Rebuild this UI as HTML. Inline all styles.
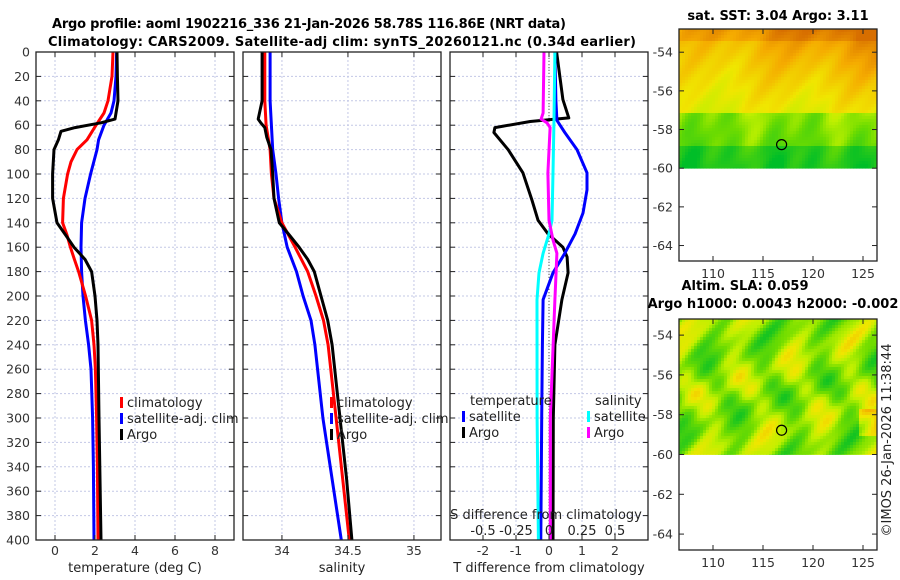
<!DOCTYPE html>
<html><head><meta charset="utf-8"><style>
body{margin:0;background:#fff;}
svg{display:block;font-family:"DejaVu Sans","Liberation Sans",sans-serif;}
.tk{font-size:12.5px;fill:#333;}
.ttl{font-size:13px;font-weight:bold;fill:#000;}
.lab{font-size:13px;fill:#222;}
</style></head><body>
<svg id="fig" width="900" height="580" viewBox="0 0 900 580"></svg>
<script>
// ---------- data ----------
const depthTicks=[0,20,40,60,80,100,120,140,160,180,200,220,240,260,280,300,320,340,360,380,400];
const tempTicks=[0,2,4,6,8];
const salTicks=[34,34.5,35];
const salTickLabels=["34","34.5","35"];
const tdiffTicks=[-2,-1,0,1,2];
const sdiffTicks=[-0.5,-0.25,0,0.25,0.5];
const sdiffTickLabels=["-0.5","-0.25","0","0.25","0.5"];
const lonTicks=[110,115,120,125];
const latTicks=[-54,-56,-58,-60,-62,-64];
// [depth, value]
const tempClim=[[0,2.9],[20,2.85],[40,2.65],[50,2.45],[60,2.05],[72,1.6],[80,1.1],[90,0.8],[100,0.63],[120,0.42],[140,0.38],[150,0.6],[160,0.77],[170,0.97],[180,1.18],[200,1.53],[220,1.83],[240,1.95],[260,2.02],[300,2.08],[340,2.12],[400,2.15]];
const tempSat=[[0,3.08],[20,3.05],[40,2.95],[50,2.8],[60,2.45],[72,2.18],[80,2.1],[100,1.78],[120,1.5],[140,1.33],[160,1.3],[180,1.33],[200,1.4],[220,1.52],[240,1.68],[260,1.8],[300,1.88],[340,1.92],[400,1.95]];
const tempArgo=[[0,3.1],[20,3.12],[40,3.15],[55,3.0],[58,2.3],[62,1.0],[65,0.3],[72,0.17],[80,-0.05],[100,-0.12],[120,-0.12],[140,0.1],[150,0.53],[160,0.95],[170,1.5],[180,1.83],[200,2.0],[220,2.1],[240,2.15],[300,2.2],[400,2.3]];
const salClim=[[0,33.87],[40,33.87],[60,33.88],[80,33.91],[100,33.92],[120,33.94],[140,34.0],[150,34.05],[160,34.1],[180,34.195],[200,34.258],[220,34.315],[240,34.35],[300,34.41],[350,34.46],[400,34.51]];
const salSat=[[0,33.91],[40,33.91],[60,33.92],[80,33.93],[100,33.955],[120,33.975],[140,34.0],[160,34.04],[180,34.11],[200,34.16],[220,34.22],[240,34.25],[300,34.31],[350,34.38],[400,34.45]];
const salArgo=[[0,33.85],[40,33.85],[55,33.82],[58,33.84],[62,33.87],[70,33.885],[80,33.917],[100,33.93],[120,33.94],[140,33.98],[150,34.056],[160,34.13],[170,34.195],[180,34.245],[200,34.296],[220,34.347],[240,34.38],[300,34.44],[350,34.49],[400,34.53]];
const tdiffSat=[[0,0.18],[40,0.21],[56,0.24],[66,0.48],[80,0.85],[99,1.15],[113,1.15],[132,1.03],[149,0.79],[165,0.48],[181,0.12],[203,-0.18],[240,-0.2],[300,-0.22],[400,-0.25]];
const tdiffArgo=[[0,0.23],[39,0.42],[54,0.6],[57,-0.57],[62,-1.64],[66,-1.67],[80,-1.24],[99,-0.79],[121,-0.52],[138,-0.33],[149,-0.03],[160,0.42],[168,0.55],[181,0.58],[203,0.39],[240,0.18],[300,0.13],[400,0.12]];
const sdiffSat=[[0,0.045],[55,0.038],[99,0.03],[138,0.023],[149,0.0],[165,-0.045],[181,-0.076],[203,-0.091],[300,-0.09],[400,-0.08]];
const sdiffArgo=[[0,-0.038],[50,-0.045],[55,-0.06],[58,-0.015],[62,0.008],[99,-0.008],[138,0.0],[154,0.03],[165,0.06],[203,0.045],[300,0.01],[400,0.01]];

const NS='http://www.w3.org/2000/svg';
const svg=document.getElementById('fig');
function el(tag,attrs,parent,txt){const e=document.createElementNS(NS,tag);for(const k in attrs)e.setAttribute(k,attrs[k]);if(txt!==undefined)e.textContent=txt;(parent||svg).appendChild(e);return e;}

const TOP=52,BOT=540;
const yD=d=>TOP+(d/400)*(BOT-TOP);
function lin(d0,d1,r0,r1){return v=>r0+(v-d0)/(d1-d0)*(r1-r0);}
const panels=[
 {x0:36,x1:234,name:'temperature-panel',sx:lin(-0.95,8.95,36,234)},
 {x0:243,x1:441,name:'salinity-panel',sx:lin(33.705,35.205,243,441)},
 {x0:450,x1:648,name:'difference-panel',sx:lin(-3,3,450,648)}
];
const sdx=lin(-0.75,0.75,450,648);

function grid(g,p,xt){
  depthTicks.forEach(d=>{const l=el('line',{x1:p.x0,x2:p.x1,y1:yD(d),y2:yD(d),stroke:'#c3c8e6','stroke-width':1,'stroke-dasharray':'2,2'},g);});
  xt.forEach(v=>{const x=p.sx(v);const l=el('line',{x1:x,x2:x,y1:TOP,y2:BOT,stroke:'#c3c8e6','stroke-width':1,'stroke-dasharray':'2,2'},g);});
}
function ticks(g,p,xt,labels,showY){
  depthTicks.forEach(d=>{el('line',{x1:p.x0,x2:p.x0+5,y1:yD(d),y2:yD(d),stroke:'#222'},g);el('line',{x1:p.x1,x2:p.x1-5,y1:yD(d),y2:yD(d),stroke:'#222'},g);
    if(showY){const t=el('text',{x:30,y:yD(d)+4.5,'text-anchor':'end',class:'tk'},g,String(d));}});
  xt.forEach((v,i)=>{const x=p.sx(v);el('line',{x1:x,x2:x,y1:BOT,y2:BOT-5,stroke:'#222'},g);el('line',{x1:x,x2:x,y1:TOP,y2:TOP+5,stroke:'#222'},g);
    const t=el('text',{x:x,y:555,'text-anchor':'middle',class:'tk'},g,labels[i]);});
}
function line(g,data,sx,color,name,w){
  const pts=data.map(([d,v])=>sx(v).toFixed(1)+','+yD(d).toFixed(1)).join(' ');
  const pl=el('polyline',{points:pts,fill:'none',stroke:color,'stroke-width':w||3,'stroke-linejoin':'round'},g);
  
}
function legend(g,x,y,items){
  items.forEach((it,i)=>{const yy=y+i*16;
    el('rect',{x:x,y:yy-10,width:3,height:11,fill:it[1]},g);
    const t=el('text',{x:x+7,y:yy,class:'lab'},g,it[0]);});
}

// Panel 1
let g=el('g',{});  
let p=panels[0];
grid(g,p,tempTicks);
line(g,tempSat,p.sx,'#0000ff','temp-satellite-line');
line(g,tempClim,p.sx,'#ff0000','temp-climatology-line');
line(g,tempArgo,p.sx,'#000000','temp-argo-line');
el('rect',{x:p.x0,y:TOP,width:p.x1-p.x0,height:BOT-TOP,fill:'none',stroke:'#222','stroke-width':1.3},g);
ticks(g,p,tempTicks,tempTicks.map(String),true);
legend(g,120,407,[['climatology','#f00'],['satellite-adj. clim','#00f'],['Argo','#000']]);
el('text',{x:135,y:572,'text-anchor':'middle',class:'lab'},g,'temperature (deg C)');

// Panel 2
g=el('g',{});  
p=panels[1];
grid(g,p,salTicks);
line(g,salSat,p.sx,'#0000ff','sal-satellite-line');
line(g,salClim,p.sx,'#ff0000','sal-climatology-line');
line(g,salArgo,p.sx,'#000000','sal-argo-line');
el('rect',{x:p.x0,y:TOP,width:p.x1-p.x0,height:BOT-TOP,fill:'none',stroke:'#222','stroke-width':1.3},g);
ticks(g,p,salTicks,salTickLabels,false);
legend(g,330,407,[['climatology','#f00'],['satellite-adj. clim','#00f'],['Argo','#000']]);
el('text',{x:342,y:572,'text-anchor':'middle',class:'lab'},g,'salinity');

// Panel 3
g=el('g',{});  
p=panels[2];
grid(g,p,tdiffTicks);
el('line',{x1:p.sx(0),x2:p.sx(0),y1:TOP,y2:BOT,stroke:'#555','stroke-dasharray':'1,2'},g);
line(g,tdiffArgo,p.sx,'#000000','tdiff-argo-line');
line(g,tdiffSat,p.sx,'#0000ff','tdiff-satellite-line');
line(g,sdiffSat,sdx,'#00ffff','sdiff-satellite-line');
line(g,sdiffArgo,sdx,'#ff00ff','sdiff-argo-line');
el('rect',{x:p.x0,y:TOP,width:p.x1-p.x0,height:BOT-TOP,fill:'none',stroke:'#222','stroke-width':1.3},g);
ticks(g,p,tdiffTicks,tdiffTicks.map(String),false);
el('text',{x:470,y:405,class:'lab'},g,'temperature');
legend(g,462,421,[['satellite','#00f'],['Argo','#000']]);
el('text',{x:595,y:405,class:'lab'},g,'salinity');
legend(g,587,421,[['satellite','#0ff'],['Argo','#f0f']]);
el('text',{x:546,y:519,'text-anchor':'middle',class:'lab'},g,'S difference from climatology');
sdiffTicks.forEach((v,i)=>{const t=el('text',{x:sdx(v),y:535,'text-anchor':'middle',class:'lab'},g,sdiffTickLabels[i]);});
el('text',{x:549,y:572,'text-anchor':'middle',class:'lab'},g,'T difference from climatology');

// Titles
let t=el('text',{x:309,y:28,'text-anchor':'middle',class:'ttl',textLength:514},svg,'Argo profile: aoml 1902216_336 21-Jan-2026 58.78S 116.86E (NRT data)');

t=el('text',{x:342,y:46,'text-anchor':'middle',class:'ttl',textLength:588},svg,'Climatology: CARS2009. Satellite-adj clim: synTS_20260121.nc (0.34d earlier)');


// Maps
function cmap(v){ // 0 green -> 1 orange-brown
  const stops=[[0,[0,190,40]],[0.3,[110,220,0]],[0.45,[190,240,0]],[0.6,[240,230,0]],[0.8,[245,170,0]],[1,[215,110,0]]];
  v=Math.max(0,Math.min(1,v));
  for(let i=1;i<stops.length;i++){if(v<=stops[i][0]){const a=stops[i-1],b=stops[i],f=(v-a[0])/(b[0]-a[0]);
    return 'rgb('+a[1].map((c,k)=>Math.round(c+(b[1][k]-c)*f)).join(',')+')';}}
}
function map(name,top,bottom,latTop,fieldFn,titles){
  const mg=el('g',{});  
  const x0=679,x1=877;
  const sx=lin(106.6,126.4,x0,x1);
  const sy=lin(latTop,-64.8,top,bottom);
  const y60=sy(-60);
  const cs=3;
  for(let yy=top;yy<y60;yy+=cs){for(let xx=x0;xx<x1;xx+=cs){
    el('rect',{x:xx,y:yy,width:cs+0.4,height:Math.min(cs,y60-yy)+0.4,fill:cmap(fieldFn((xx-x0)/(x1-x0),(yy-top)/(y60-top)))},mg);}}
  const c=el('circle',{cx:sx(116.86),cy:sy(-58.78),r:5,fill:'none',stroke:'#000','stroke-width':1.2},mg);
  
  el('rect',{x:x0,y:top,width:x1-x0,height:bottom-top,fill:'none',stroke:'#222','stroke-width':1.3},mg);
  latTicks.forEach(l=>{const y=sy(l);el('line',{x1:x0,x2:x0+5,y1:y,y2:y,stroke:'#222'},mg);el('line',{x1:x1,x2:x1-5,y1:y,y2:y,stroke:'#222'},mg);
    const tt=el('text',{x:673,y:y+4.5,'text-anchor':'end',class:'tk'},mg,String(l));});
  lonTicks.forEach(l=>{const x=sx(l);el('line',{x1:x,x2:x,y1:bottom,y2:bottom-5,stroke:'#222'},mg);el('line',{x1:x,x2:x,y1:top,y2:top+5,stroke:'#222'},mg);
    const tt=el('text',{x:x,y:bottom+17,'text-anchor':'middle',class:'tk'},mg,String(l));});
  titles.forEach(([txt,y,x])=>{el('text',{x:x,y:y,'text-anchor':'middle',class:'ttl'},mg,txt);});
}
map('sst-map',29,261,-52.8,(u,v)=>{
  let base=0.72-0.3*v+0.25*u*Math.pow(1-v,2)+(v<0.08?0.08:0);
  base+=0.05*Math.sin(u*14+v*4)+0.03*Math.sin(u*41+v*23);
  if(v>0.6) base-=0.2+0.06*Math.sin(u*30);
  if(v>0.83) base-=0.15;
  return base;
},[['sat. SST: 3.04 Argo: 3.11',20,778]]);
map('sla-map',319,550,-53.19,(u,v)=>{
  return 0.36+0.15*Math.sin(u*22+Math.sin(v*6)*2)+0.1*Math.sin(v*13+u*7)+0.06*Math.sin(u*47+v*31)+(u>0.9&&v>0.65&&v<0.85?0.25:0);
},[['Altim. SLA: 0.059',290,745],['Argo h1000: 0.0043 h2000: -0.002',308,773]]);

t=el('text',{x:0,y:0,transform:'translate(891,440) rotate(-90)','text-anchor':'middle',class:'lab'},svg,'©IMOS 26-Jan-2026 11:38:44');

</script>
</body></html>
